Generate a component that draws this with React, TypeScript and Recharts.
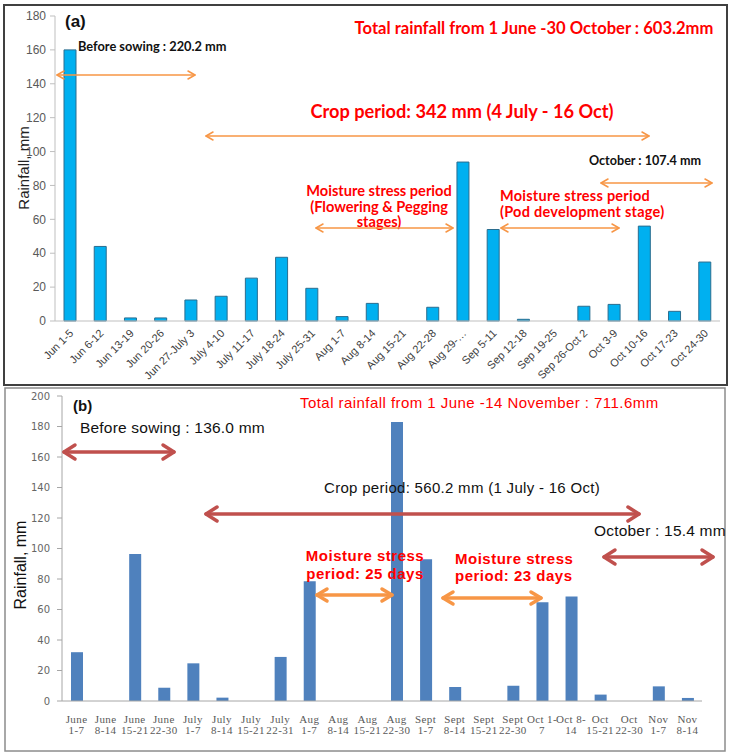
import React from 'react';
import { BarChart, Bar, XAxis, YAxis } from 'recharts';

const catsA = ['Jun 1-5', 'Jun 6-12', 'Jun 13-19', 'Jun 20-26', 'Jun 27-July 3', 'July 4-10', 'July 11-17', 'July 18-24', 'July 25-31', 'Aug 1-7', 'Aug 8-14', 'Aug 15-21', 'Aug 22-28', 'Aug 29-…', 'Sep 5-11', 'Sep 12-18', 'Sep 19-25', 'Sep 26-Oct 2', 'Oct 3-9', 'Oct 10-16', 'Oct 17-23', 'Oct 24-30'];
const rainA = [160, 44, 1.8, 1.8, 12.4, 14.6, 25.3, 37.6, 19.3, 2.6, 10.4, 0, 8.1, 93.8, 54, 1, 0, 8.7, 9.8, 56, 5.7, 34.8];
const ticksA = [0, 20, 40, 60, 80, 100, 120, 140, 160, 180];

const catsB1 = ['June', 'June', 'June', 'June', 'July', 'July', 'July', 'July', 'Aug', 'Aug', 'Aug', 'Aug', 'Sept', 'Sept', 'Sept', 'Sept', 'Oct 1-', 'Oct 8-', 'Oct', 'Oct', 'Nov', 'Nov'];
const catsB2 = ['1-7', '8-14', '15-21', '22-30', '1-7', '8-14', '15-21', '22-31', '1-7', '8-14', '15-21', '22-30', '1-7', '8-14', '15-21', '22-30', '7', '14', '15-21', '22-30', '1-7', '8-14'];
const rainB = [32, 0, 96.4, 8.7, 24.7, 2.2, 0, 28.9, 78.5, 0, 0, 183, 93, 9.2, 0, 10, 64.7, 68.6, 4.2, 0, 9.6, 2];
const ticksB = [0, 20, 40, 60, 80, 100, 120, 140, 160, 180, 200];

const dataA = catsA.map((c, i) => ({ cat: c, rain: rainA[i] }));
const dataB = catsB1.map((c, i) => ({ cat: `${c}|${catsB2[i]}`, rain: rainB[i] }));

const TickA = (props: any) => {
  const { x, y, payload } = props;
  const ax = x + 4;
  const ay = y + 5;
  return (
    <text x={ax} y={ay} transform={`rotate(-45 ${ax} ${ay})`} textAnchor="end" fontSize={11} fontFamily="'Liberation Sans', Arial, sans-serif" fill="#404040">
      {payload.value}
    </text>
  );
};

const TickB = (props: any) => {
  const { x, y, payload } = props;
  const [l1, l2] = String(payload.value).split('|');
  return (
    <text textAnchor="middle" fontSize={11} fontFamily="'Liberation Serif', 'Times New Roman', serif" fill="#595959" letterSpacing={0.4}>
      <tspan x={x} y={y + 14}>{l1}</tspan>
      <tspan x={x} y={y + 25}>{l2}</tspan>
    </text>
  );
};

function Arrow({ x1, x2, y, color, w, hl, hh }: { x1: number; x2: number; y: number; color: string; w: number; hl: number; hh: number }) {
  return (
    <g stroke={color} strokeWidth={w} fill="none" strokeLinecap="round" strokeLinejoin="round">
      <line x1={x1} y1={y} x2={x2} y2={y} />
      <polyline points={`${x1 + hl},${y - hh} ${x1},${y} ${x1 + hl},${y + hh}`} />
      <polyline points={`${x2 - hl},${y - hh} ${x2},${y} ${x2 - hl},${y + hh}`} />
    </g>
  );
}

const boldA = "Lato, 'Open Sans', sans-serif";
const sansB = "'Liberation Sans', Arial, sans-serif";
const ORA = '#f79646';
const DRED = '#c0504d';

export default function App() {
  return (
    <div style={{ position: 'absolute', left: 0, top: 0, width: 732, height: 756, background: '#fff' }}>
      <div style={{ position: 'absolute', left: 0, top: 0 }}>
        <BarChart width={732} height={386} data={dataA} margin={{ top: 16, right: 12, left: 0, bottom: 0 }}>
          <XAxis dataKey="cat" interval={0} height={65} tick={<TickA />} tickLine={false} stroke="#bfbfbf" />
          <YAxis domain={[0, 180]} ticks={ticksA} width={55} tickSize={5} tickMargin={4} stroke="#bfbfbf" tick={{ fontSize: 12, fill: '#595959', fontFamily: sansB }} />
          <Bar dataKey="rain" fill="#00B0F0" stroke="#2a6d8f" strokeWidth={1} barSize={12} isAnimationActive={false} />
        </BarChart>
      </div>
      <div style={{ position: 'absolute', left: 0, top: 386 }}>
        <BarChart width={732} height={370} data={dataB} margin={{ top: 10, right: 30, left: 0, bottom: 0 }}>
          <XAxis dataKey="cat" interval={0} height={55} tick={<TickB />} tickLine={false} stroke="#a6a6a6" />
          <YAxis domain={[0, 200]} ticks={ticksB} width={62} tickSize={5} tickMargin={7} stroke="#a6a6a6" tick={{ fontSize: 10, fill: '#666', fontFamily: "'DejaVu Sans', sans-serif" }} />
          <Bar dataKey="rain" fill="#4F81BD" barSize={12} isAnimationActive={false} />
        </BarChart>
      </div>
      <svg width={732} height={756} style={{ position: 'absolute', left: 0, top: 0, pointerEvents: 'none' }}>
        {/* frames */}
        <rect x={4} y={5} width={723} height={380} fill="none" stroke="#404040" strokeWidth={2} />
        <rect x={5} y={388} width={720} height={363} fill="none" stroke="#8c8c8c" strokeWidth={1.5} />

        {/* panel a */}
        <text x={25} y={168} transform="rotate(-90 25 168)" textAnchor="middle" dominantBaseline="middle" fontSize={15} fontFamily={sansB} fill="#222">Rainfall, mm</text>
        <text x={65} y={27} fontSize={17} fontWeight="bold" fontFamily={sansB} fill="#111">(a)</text>
        <text x={534} y={34} textAnchor="middle" fontSize={16.6} fontWeight="bold" fontFamily={boldA} fill="#ff0000">Total rainfall from 1 June -30 October : 603.2mm</text>
        <text x={78} y={51} fontSize={12.8} fontWeight="bold" fontFamily={boldA} fill="#111">Before sowing : 220.2 mm</text>
        <Arrow x1={57} x2={195} y={75} color={ORA} w={1.5} hl={7} hh={4} />
        <text x={462} y={118} textAnchor="middle" fontSize={18.2} fontWeight="bold" fontFamily={boldA} fill="#ff0000">Crop period: 342 mm (4 July - 16 Oct)</text>
        <Arrow x1={206} x2={649} y={136} color={ORA} w={1.5} hl={7} hh={4} />
        <text x={645} y={165} textAnchor="middle" fontSize={12.6} fontWeight="bold" fontFamily={boldA} fill="#111">October : 107.4 mm</text>
        <Arrow x1={601} x2={712} y={183} color={ORA} w={1.5} hl={7} hh={4} />
        <text textAnchor="middle" fontSize={14.6} fontWeight="bold" fontFamily={boldA} fill="#ff0000">
          <tspan x={379} y={196}>Moisture stress period</tspan>
          <tspan x={379} y={211.5}>(Flowering &amp; Pegging</tspan>
          <tspan x={379} y={227}>stages)</tspan>
        </text>
        <Arrow x1={316} x2={453} y={228} color={ORA} w={1.5} hl={7} hh={4} />
        <text textAnchor="start" fontSize={14.5} fontWeight="bold" fontFamily={boldA} fill="#ff0000" letterSpacing={0.25}>
          <tspan x={500} y={201}>Moisture stress period</tspan>
          <tspan x={500} y={217}>(Pod development stage)</tspan>
        </text>
        <Arrow x1={501} x2={619} y={228} color={ORA} w={1.5} hl={7} hh={4} />

        {/* panel b */}
        <text x={22} y={565} transform="rotate(-90 22 565)" textAnchor="middle" dominantBaseline="middle" fontSize={16} fontFamily={sansB} fill="#111">Rainfall, mm</text>
        <text x={73} y={411} fontSize={15} fontWeight="bold" fontFamily={sansB} fill="#111">(b)</text>
        <text x={300} y={408} fontSize={15} fontFamily={sansB} fill="#ff0000" letterSpacing={0.45}>Total rainfall from 1 June -14 November : 711.6mm</text>
        <text x={80} y={433} fontSize={15.5} fontFamily={sansB} fill="#111" letterSpacing={0.2}>Before sowing : 136.0 mm</text>
        <Arrow x1={64} x2={174} y={452} color={DRED} w={3.5} hl={11} hh={7} />
        <text x={324} y={493} fontSize={15} fontFamily={sansB} fill="#111" letterSpacing={0.3}>Crop period: 560.2 mm (1 July - 16 Oct)</text>
        <Arrow x1={206} x2={639} y={514} color={DRED} w={3.5} hl={11} hh={7} />
        <text x={594} y={536} fontSize={15.5} fontFamily={sansB} fill="#111" letterSpacing={0.2}>October : 15.4 mm</text>
        <Arrow x1={604} x2={713} y={557} color={DRED} w={3.5} hl={11} hh={7} />
        <text textAnchor="middle" fontSize={15} fontWeight="bold" fontFamily={sansB} fill="#ff0000" letterSpacing={0.5}>
          <tspan x={365} y={561}>Moisture stress</tspan>
          <tspan x={365} y={579}>period: 25 days</tspan>
        </text>
        <Arrow x1={317} x2={392} y={595} color={ORA} w={3.5} hl={10} hh={6} />
        <text textAnchor="start" fontSize={15} fontWeight="bold" fontFamily={sansB} fill="#ff0000" letterSpacing={0.5}>
          <tspan x={455} y={564}>Moisture stress</tspan>
          <tspan x={455} y={581}>period: 23 days</tspan>
        </text>
        <Arrow x1={443} x2={541} y={598} color={ORA} w={3.5} hl={10} hh={6} />
      </svg>
    </div>
  );
}
